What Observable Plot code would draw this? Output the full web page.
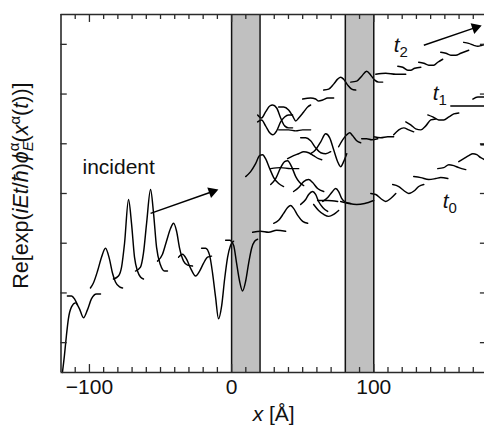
<!DOCTYPE html>
<html><head><meta charset="utf-8">
<script src="https://cdn.jsdelivr.net/npm/d3@7"></script>
<script src="https://cdn.jsdelivr.net/npm/@observablehq/plot@0.6"></script>
<style>
body{margin:0;background:#fff;overflow:hidden}
svg{font-family:"Liberation Sans",Arial,Helvetica,sans-serif}
</style>
</head><body><div id="chart"></div>
<script>
// ---- data (x in Å, y in arbitrary offset units: one y tick = 1) ----
const barriers = [[0, 20], [80, 100]];
const barrierEdges = [0, 20, 80, 100];
const xMinorTicks = [-110,-90,-80,-70,-60,-50,-40,-30,-20,-10,10,30,40,50,60,70,90,110,120,130,140,150,160,170];
const xMajorTicks = [-100, 0, 100];
const xTickLabels = ["\u2212100", "0", "100"];
const yTicks = [1, 2, 3, 4, 5, 6, 7];

const incidentSegments = [
  [[-119.0,0.40],[-117.6,0.74],[-116.2,1.14],[-114.8,1.48],[-112.6,1.72],[-109.8,1.80],[-107.0,1.68],[-104.2,1.50],[-101.4,1.66],[-98.6,1.88],[-95.0,1.98],[-92.2,1.98]],
  [[-115.5,1.94],[-112.6,1.94],[-110.5,1.88],[-108.4,1.76]],
  [[-99.3,2.10],[-97.2,2.20],[-94.3,2.44],[-91.5,2.72],[-88.7,2.90],[-85.9,2.68],[-83.8,2.40],[-81.7,2.22],[-78.8,2.12],[-76.7,2.10]],
  [[-83.1,2.28],[-79.6,2.34],[-77.4,2.52],[-75.3,3.00],[-72.5,3.88],[-70.4,3.40],[-68.3,2.72],[-66.2,2.44],[-64.1,2.32],[-62.0,2.28]],
  [[-67.6,2.44],[-64.1,2.52],[-62.0,2.80],[-59.8,3.40],[-57.0,4.08],[-54.9,3.60],[-52.8,2.92],[-50.0,2.56],[-47.2,2.44],[-45.1,2.44]],
  [[-52.1,2.64],[-48.6,2.78],[-45.8,3.04],[-42.9,3.30],[-40.8,3.40],[-38.7,3.24],[-36.6,2.90],[-33.8,2.64],[-31.0,2.56],[-27.5,2.54]],
  [[-37.3,2.72],[-34.5,2.78],[-31.7,2.68],[-28.9,2.50],[-25.3,2.34],[-22.5,2.44],[-19.7,2.60],[-16.9,2.72],[-14.1,2.74]],
  [[-21.1,2.90],[-18.3,2.90],[-15.5,2.76],[-13.4,2.40],[-11.3,1.92],[-9.2,1.48],[-7.0,1.74],[-4.9,2.28],[-2.8,2.72],[-0.7,2.96],[1.4,3.04]],
  [[-4.2,3.06],[-1.4,3.06],[1.4,2.96],[3.5,2.60],[5.6,2.24],[7.7,2.04],[9.9,2.24],[12.0,2.60],[14.1,2.90],[16.2,3.04],[18.3,3.08]],
  [[14.8,3.22],[20.4,3.24],[26.0,3.22],[31.7,3.26],[38.0,3.24]]
];

const t2Segments = [
  [[64.8,6.08],[68.3,6.10],[71.8,6.20],[74.6,6.30],[76.7,6.34],[78.8,6.30],[81.7,6.18],[84.5,6.10],[87.3,6.08]],
  [[83.8,6.24],[88.0,6.26],[91.5,6.36],[95.0,6.46],[97.9,6.38],[100.7,6.28],[103.5,6.24],[106.3,6.24]],
  [[101.4,6.40],[108.4,6.42],[115.5,6.40],[122.5,6.40]],
  [[50.0,5.90],[55.6,5.92],[59.1,5.90],[61.2,5.86],[64.1,5.88],[67.6,5.92],[71.8,5.92]],
  [[116.9,6.56],[120.4,6.54],[123.9,6.48],[126.0,6.48],[128.8,6.52],[133.1,6.54]],
  [[131.6,6.64],[135.2,6.62],[138.7,6.58],[142.2,6.58],[145.0,6.64],[148.5,6.70]],
  [[147.1,6.84],[150.7,6.82],[154.2,6.78],[157.7,6.78],[161.2,6.82],[166.8,6.88]],
  [[163.3,7.04],[166.8,7.02],[170.4,6.98],[173.2,6.96],[176.0,6.98],[178.1,7.00]]
];

const t1Segments = [
  [[18.3,5.58],[21.1,5.52],[23.9,5.64],[26.8,5.76],[28.9,5.78],[31.7,5.72],[34.5,5.52],[37.3,5.36],[40.1,5.32],[42.9,5.32]],
  [[18.3,5.44],[21.1,5.48],[23.9,5.36],[26.8,5.22],[28.9,5.18],[31.7,5.26],[34.5,5.44],[37.3,5.54],[40.1,5.58],[42.9,5.58]],
  [[33.1,5.74],[36.6,5.74],[40.1,5.68],[42.9,5.56],[45.1,5.46],[47.2,5.52],[50.7,5.64],[53.5,5.74],[55.6,5.78]],
  [[33.1,5.28],[40.1,5.28],[45.1,5.26],[50.0,5.28],[55.6,5.28]],
  [[48.6,5.12],[52.1,5.12],[55.6,5.06],[59.1,4.92],[62.7,4.82],[66.2,4.80],[69.7,4.84]],
  [[55.6,4.80],[59.1,4.88],[62.7,5.04],[66.2,5.20],[69.0,5.12],[71.8,4.88],[74.6,4.64],[76.7,4.54],[78.8,4.64],[81.0,4.80]],
  [[75.3,4.94],[78.1,5.08],[81.0,5.18],[83.1,5.22],[85.2,5.16],[88.0,5.06],[90.8,5.02]],
  [[91.5,5.10],[95.0,5.10],[98.6,5.08],[102.8,5.10]],
  [[100.0,5.14],[104.9,5.12],[109.8,5.14],[114.0,5.14]],
  [[114.0,5.18],[117.6,5.28],[121.1,5.32],[124.6,5.28],[128.1,5.24]],
  [[122.5,5.44],[126.0,5.38],[129.5,5.30],[133.1,5.28],[136.6,5.36],[140.1,5.48],[143.6,5.50]],
  [[138.0,5.58],[141.5,5.54],[145.7,5.48],[149.2,5.48],[152.8,5.54],[156.3,5.60],[159.8,5.62]],
  [[154.2,5.76],[161.2,5.76],[168.3,5.76],[178.1,5.76]],
  [[169.7,5.90],[173.2,5.94],[178.1,5.94]]
];

const t0Segments = [
  [[9.9,4.34],[13.4,4.44],[16.9,4.60],[19.7,4.76],[21.8,4.78],[23.9,4.70],[26.8,4.50],[29.6,4.32],[33.1,4.20],[36.6,4.14]],
  [[27.5,4.18],[31.0,4.30],[34.5,4.52],[37.3,4.64],[39.4,4.66],[42.2,4.54],[45.1,4.34],[47.9,4.22],[50.7,4.16]],
  [[27.5,4.50],[34.5,4.52],[41.5,4.50],[47.2,4.50]],
  [[39.4,4.70],[43.6,4.76],[47.2,4.80],[50.7,4.84],[54.2,4.82],[57.7,4.76],[61.2,4.70],[63.4,4.68]],
  [[43.6,4.04],[47.2,4.12],[50.7,4.24],[54.2,4.28],[57.0,4.22],[60.5,4.10],[64.8,4.04]],
  [[29.6,3.40],[33.1,3.46],[36.6,3.60],[39.4,3.72],[41.5,3.76],[43.6,3.70],[46.5,3.56],[50.0,3.44],[53.5,3.40]],
  [[48.6,3.78],[52.1,3.88],[54.2,3.98],[57.0,4.04],[59.1,3.98],[61.2,3.84],[64.1,3.72],[67.6,3.64]],
  [[64.1,3.84],[67.6,3.92],[70.4,4.02],[73.2,4.10],[75.3,4.04],[77.4,3.90],[80.3,3.82],[83.8,3.80]],
  [[60.5,3.86],[67.6,3.86],[74.6,3.84]],
  [[57.7,3.78],[61.2,3.66],[64.8,3.58],[68.3,3.54],[71.8,3.58],[75.3,3.66]],
  [[76.7,3.84],[82.4,3.80],[88.0,3.78],[93.6,3.80],[100.0,3.86]],
  [[97.9,4.00],[101.4,3.98],[104.9,3.90],[108.4,3.84],[111.9,3.90],[115.5,4.00]],
  [[113.3,4.18],[117.6,4.14],[121.1,4.06],[124.6,4.00],[128.8,4.06],[131.6,4.14],[135.2,4.18]],
  [[128.1,4.34],[133.1,4.32],[138.7,4.28],[143.6,4.30],[147.1,4.32],[152.1,4.30]],
  [[145.0,4.50],[149.2,4.52],[152.8,4.58],[156.3,4.56],[159.8,4.52],[164.7,4.48]],
  [[159.8,4.64],[163.3,4.70],[166.8,4.76],[169.7,4.80],[172.5,4.78],[175.3,4.72],[178.1,4.68]],
  [[175.3,4.98],[178.1,4.98]]
];

const arrows = [
  {x1: -57.0, y1: 3.60, x2: -11.3, y2: 4.06},
  {x1: 135.2, y1: 6.98, x2: 173.9, y2: 7.36}
];
const labels = [
  {x: -104.9, y: 4.40, text: "incident"},
  {x: 114.0, y: 6.84, text: "t2"},
  {x: 141.5, y: 5.88, text: "t1"},
  {x: 148.5, y: 3.70, text: "t0"}
];
const xLabelPos = 29.6;     // Å, centre of "x [Å]"
const yLabelPos = 4.16;     // y units, centre of the y-axis title

// ---- build ----
const xDomain = [-120, 180], yDomain = [0.4, 7.6];
const xRange = [60.5, 487], yRange = [372, 14];
const kx = (xRange[1] - xRange[0]) / (xDomain[1] - xDomain[0]);
const ky = (yRange[0] - yRange[1]) / (yDomain[1] - yDomain[0]);

const allSegments = [...incidentSegments, ...t2Segments, ...t1Segments, ...t0Segments];
const rows = allSegments.flatMap((s, i) => s.map(([x, y]) => ({x, y, seg: i})));

const heads = arrows.map(a => {
  const sx = (a.x2 - a.x1) * kx, sy = -(a.y2 - a.y1) * ky;
  const L = Math.hypot(sx, sy), ux = sx / L, uy = sy / L;
  const back = 3.5;
  return {x: a.x2 - back * ux / kx, y: a.y2 + back * uy / ky,
          rot: Math.atan2(sy, sx) * 180 / Math.PI + 90};
});
const shafts = arrows.map(a => {
  const sx = (a.x2 - a.x1) * kx, sy = -(a.y2 - a.y1) * ky;
  const L = Math.hypot(sx, sy), ux = sx / L, uy = sy / L;
  return {x1: a.x1, y1: a.y1, x2: a.x2 - 6 * ux / kx, y2: a.y2 + 6 * uy / ky};
});

const yt = 0.1, ytM = 0.16, xt = 4.4;
const frameColor = "#2a2a2a";

const plot = Plot.plot({
  width: 484, height: 430,
  marginLeft: 60, marginRight: 0, marginTop: 14, marginBottom: 58,
  x: {domain: xDomain, range: xRange, axis: null},
  y: {domain: yDomain, range: yRange, axis: null},
  style: {fontFamily: '"Liberation Sans", Arial, Helvetica, sans-serif', background: "white"},
  marks: [
    Plot.rect(barriers, {x1: d => d[0], x2: d => d[1], y1: yDomain[0], y2: yDomain[1], fill: "#c0c0c0"}),
    Plot.line(rows, {x: "x", y: "y", z: "seg", curve: "monotone-x", stroke: "#000", strokeWidth: 1.45}),
    Plot.ruleX(barrierEdges, {y1: yDomain[0], y2: yDomain[1], stroke: "#111", strokeWidth: 1.5}),
    // frame
    Plot.ruleX([xDomain[0]], {y1: yDomain[0], y2: yDomain[1], stroke: frameColor, strokeWidth: 1.6}),
    Plot.ruleY([yDomain[0], yDomain[1]], {x1: xDomain[0], x2: xDomain[1], stroke: frameColor, strokeWidth: 1.6}),
    // ticks
    Plot.ruleX(xMinorTicks, {y1: yDomain[0], y2: yDomain[0] + yt, stroke: frameColor, strokeWidth: 1.3}),
    Plot.ruleX(xMajorTicks, {y1: yDomain[0], y2: yDomain[0] + ytM, stroke: frameColor, strokeWidth: 1.3}),
    Plot.ruleX(xMinorTicks, {y1: yDomain[1], y2: yDomain[1] - yt, stroke: frameColor, strokeWidth: 1.3}),
    Plot.ruleX(xMajorTicks, {y1: yDomain[1], y2: yDomain[1] - ytM, stroke: frameColor, strokeWidth: 1.3}),
    Plot.ruleY(yTicks, {x1: xDomain[0], x2: xDomain[0] + xt, stroke: frameColor, strokeWidth: 1.3}),
    Plot.ruleY(yTicks, {x1: xDomain[1], x2: xDomain[1] - 5, stroke: frameColor, strokeWidth: 1.3}),
    // tick labels
    Plot.text(xMajorTicks, {x: d => d, y: yDomain[0], text: (d, i) => xTickLabels[i], dy: 21, lineAnchor: "bottom", fontSize: 21, fill: "#111"}),
    // axis titles
    Plot.text(["XLABEL"], {x: xLabelPos, y: yDomain[0], text: d => d, dy: 48, lineAnchor: "bottom", fontSize: 21, fill: "#111"}),
    Plot.text(["YLABEL"], {x: xDomain[0], y: yLabelPos, text: d => d, dx: -33, rotate: -90, lineAnchor: "bottom", textAnchor: "middle", fontSize: 21.5, fill: "#111"}),
    // arrows
    Plot.link(shafts, {x1: "x1", y1: "y1", x2: "x2", y2: "y2", stroke: "#000", strokeWidth: 1.5}),
    Plot.dot(heads, {x: "x", y: "y", symbol: "triangle", r: 4.2, fill: "#000", stroke: "none", rotate: "rot"}),
    // labels
    Plot.text(labels, {x: "x", y: "y", text: "text", textAnchor: "start", lineAnchor: "bottom", fontSize: 21, fill: "#111"})
  ]
});
document.getElementById("chart").appendChild(plot);

// rich text formatting
const NS = "http://www.w3.org/2000/svg";
function span(el, txt, opts = {}) {
  const t = document.createElementNS(NS, "tspan");
  t.textContent = txt;
  for (const [k, v] of Object.entries(opts)) t.setAttribute(k, v);
  el.appendChild(t);
  return t;
}
plot.querySelectorAll("text").forEach(el => {
  const s = el.textContent;
  if (/^t[012]$/.test(s)) {
    el.textContent = "";
    span(el, "t", {"font-style": "italic"});
    span(el, s[1], {"font-size": 15, dy: 5});
  } else if (s === "XLABEL") {
    el.textContent = "";
    span(el, "x", {"font-style": "italic"});
    span(el, " [\u00C5]");
  } else if (s === "YLABEL") {
    el.textContent = "";
    span(el, "Re[exp(");
    span(el, "iEt", {"font-style": "italic"});
    span(el, "/");
    span(el, "\u0127", {"font-style": "italic"});
    span(el, ")");
    span(el, "\u03D5", {"font-style": "italic"});
    span(el, "E", {"font-style": "italic", "font-size": 15, dy: 5});
    span(el, "\u03B1", {"font-size": 15, dx: -10, dy: -14});
    span(el, "(", {dy: 9});
    span(el, "x", {"font-style": "italic"});
    span(el, "\u03B1", {"font-size": 15, dy: -8});
    span(el, "(", {dy: 8});
    span(el, "t", {"font-style": "italic"});
    span(el, "))]");
  }
});
</script>
</body></html>
